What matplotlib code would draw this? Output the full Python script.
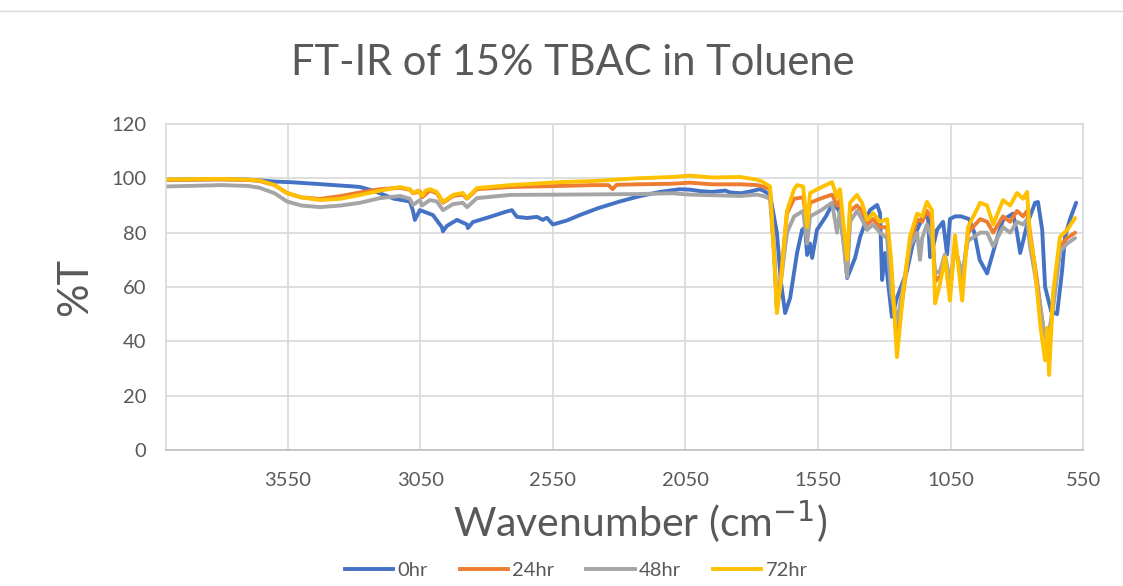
import numpy as np
import matplotlib
matplotlib.use("Agg")
import matplotlib.pyplot as plt
from matplotlib.lines import Line2D

plt.rcParams['font.family'] = ['Lato', 'DejaVu Sans']

title = "FT-IR of 15% TBAC in Toluene"
labels = ["0hr", "24hr", "48hr", "72hr"]
colors = ["#4472C4", "#ED7D31", "#A5A5A5", "#FFC000"]
x_ticks = [3550, 3050, 2550, 2050, 1550, 1050, 550]
y_ticks = [0, 20, 40, 60, 80, 100, 120]

# (wavenumber, %T)
spec_0hr = np.array([
    (4010, 99.5), (3900, 99.6), (3800, 99.7), (3700, 99.5), (3650, 99.2), (3600, 98.8),
    (3542, 98.6), (3450, 98.0), (3391, 97.6), (3300, 97.0), (3278, 96.8), (3230, 95.5),
    (3203, 94.5), (3150, 92.5), (3090, 91.5), (3078, 88.0), (3071, 84.7), (3052, 88.3),
    (3003, 86.5), (2969, 82.0), (2965, 80.5), (2950, 82.5), (2912, 84.7), (2874, 83.0),
    (2871, 81.7), (2852, 83.9), (2788, 85.8), (2731, 87.6), (2705, 88.3), (2686, 85.8),
    (2648, 85.4), (2610, 85.8), (2588, 84.7), (2573, 85.5), (2550, 83.0), (2497, 84.5),
    (2448, 86.5), (2380, 89.0), (2297, 91.5), (2220, 93.5), (2146, 95.0), (2071, 96.0),
    (2030, 95.8), (1995, 95.3), (1950, 95.0), (1900, 95.5), (1882, 94.8), (1840, 94.5),
    (1800, 95.3), (1770, 96.0), (1757, 95.5), (1731, 93.9), (1705, 80.0), (1690, 62.0),
    (1674, 50.4), (1655, 56.0), (1629, 72.5), (1610, 81.0), (1599, 82.0), (1591, 71.8),
    (1580, 76.0), (1572, 70.7), (1554, 81.0), (1520, 86.0), (1493, 91.0), (1470, 88.0),
    (1450, 75.0), (1440, 63.3), (1410, 70.7), (1391, 78.4), (1354, 88.3), (1327, 90.2),
    (1316, 87.2), (1308, 62.6), (1297, 72.5), (1286, 62.0), (1271, 49.0), (1252, 56.0),
    (1214, 66.0), (1195, 74.7), (1176, 81.0), (1154, 85.8), (1135, 85.8), (1127, 71.0),
    (1116, 74.7), (1101, 81.0), (1078, 84.0), (1063, 72.0), (1052, 85.0), (1033, 86.0),
    (1010, 86.0), (980, 85.0), (960, 80.0), (940, 70.0), (912, 65.0), (874, 78.0),
    (852, 84.7), (814, 87.0), (799, 80.0), (787, 72.5), (761, 83.0), (731, 91.0),
    (720, 91.3), (704, 81.0), (693, 60.0), (670, 51.0), (648, 50.0), (629, 66.0),
    (618, 78.4), (599, 85.0), (576, 91.0),
])

spec_24hr = np.array([
    (4010, 99.4), (3800, 99.6), (3700, 99.4), (3656, 99.0), (3600, 97.5), (3554, 94.6),
    (3500, 93.0), (3429, 92.4), (3350, 93.5), (3278, 94.8), (3203, 96.0), (3127, 96.5),
    (3090, 95.8), (3078, 94.5), (3052, 95.2), (3044, 93.0), (3014, 95.5), (2988, 94.5),
    (2965, 91.0), (2927, 93.5), (2890, 94.0), (2874, 92.5), (2837, 96.0), (2712, 96.8),
    (2523, 97.2), (2400, 97.5), (2340, 97.5), (2325, 96.0), (2310, 97.6), (2233, 97.8),
    (2100, 98.0), (2033, 98.4), (1950, 97.8), (1844, 97.8), (1780, 97.5), (1757, 97.0),
    (1731, 96.0), (1715, 72.0), (1705, 52.0), (1690, 64.0), (1667, 87.0), (1640, 92.5),
    (1606, 93.0), (1591, 83.0), (1580, 91.0), (1542, 92.5), (1497, 94.0), (1478, 90.0),
    (1467, 92.0), (1440, 66.0), (1429, 88.0), (1403, 90.0), (1384, 88.0), (1365, 83.0),
    (1342, 85.0), (1316, 82.0), (1289, 82.0), (1274, 66.0), (1252, 40.0), (1229, 57.0),
    (1203, 76.0), (1176, 85.0), (1157, 84.0), (1139, 88.0), (1120, 85.0), (1108, 62.0),
    (1089, 64.0), (1071, 70.0), (1052, 58.0), (1033, 76.0), (1006, 62.0), (984, 80.0),
    (938, 85.0), (912, 84.0), (889, 80.0), (852, 86.0), (825, 84.0), (799, 88.0),
    (776, 86.0), (761, 88.0), (750, 80.0), (723, 62.0), (700, 45.0), (678, 38.0),
    (663, 55.0), (637, 75.0), (610, 78.0), (580, 80.0),
])

spec_48hr = np.array([
    (4010, 97.0), (3800, 97.5), (3700, 97.2), (3656, 96.5), (3600, 94.5), (3554, 91.5),
    (3500, 90.0), (3429, 89.4), (3350, 90.0), (3278, 91.0), (3203, 92.7), (3127, 93.5),
    (3090, 92.5), (3078, 90.2), (3052, 92.0), (3044, 90.0), (3014, 92.0), (2988, 91.5),
    (2965, 88.3), (2927, 90.5), (2890, 91.0), (2874, 89.4), (2837, 92.7), (2712, 93.9),
    (2523, 94.0), (2233, 94.2), (2100, 94.5), (2033, 94.0), (1950, 93.8), (1844, 93.5),
    (1780, 94.0), (1757, 93.5), (1731, 92.5), (1715, 72.0), (1705, 52.0), (1690, 62.0),
    (1667, 80.0), (1640, 86.0), (1606, 88.0), (1591, 76.0), (1580, 86.0), (1542, 88.0),
    (1497, 91.0), (1478, 80.0), (1467, 88.0), (1440, 63.7), (1429, 84.0), (1403, 88.0),
    (1384, 85.0), (1365, 81.0), (1342, 83.0), (1316, 80.0), (1289, 78.0), (1274, 58.0),
    (1252, 47.0), (1229, 60.0), (1203, 75.0), (1176, 80.0), (1165, 70.0), (1157, 78.0),
    (1139, 83.0), (1120, 78.0), (1108, 65.0), (1089, 66.0), (1071, 72.0), (1052, 62.0),
    (1033, 74.0), (1006, 65.0), (984, 77.0), (938, 80.0), (912, 80.0), (889, 75.0),
    (852, 82.0), (825, 80.0), (799, 84.0), (776, 83.0), (761, 85.0), (750, 75.0),
    (723, 60.0), (700, 45.0), (685, 40.0), (663, 52.0), (637, 73.0), (610, 76.0),
    (580, 78.0),
])

spec_72hr = np.array([
    (4010, 99.6), (3800, 99.8), (3700, 99.5), (3656, 99.2), (3600, 97.5), (3554, 94.6),
    (3500, 93.0), (3429, 92.0), (3350, 92.5), (3278, 93.9), (3200, 95.5), (3127, 96.8),
    (3090, 96.0), (3078, 94.6), (3060, 95.5), (3044, 93.5), (3030, 95.5), (3014, 96.0),
    (2988, 95.0), (2965, 91.3), (2927, 93.9), (2890, 94.6), (2874, 92.7), (2837, 96.4),
    (2712, 97.5), (2523, 98.6), (2400, 99.0), (2233, 100.0), (2100, 100.5), (2033, 101.0),
    (1950, 100.3), (1844, 100.5), (1780, 99.5), (1757, 98.6), (1731, 97.0), (1715, 70.0),
    (1705, 50.4), (1690, 62.0), (1667, 88.0), (1640, 96.0), (1629, 97.5), (1606, 97.0),
    (1591, 82.0), (1580, 94.6), (1542, 96.5), (1497, 98.6), (1478, 93.0), (1467, 96.0),
    (1440, 70.0), (1429, 91.0), (1403, 93.9), (1384, 91.0), (1365, 84.7), (1342, 87.2),
    (1316, 84.0), (1289, 85.0), (1274, 70.0), (1252, 34.2), (1229, 57.8), (1203, 78.4),
    (1176, 87.0), (1157, 86.0), (1139, 91.3), (1120, 88.3), (1108, 54.0), (1089, 61.5),
    (1071, 71.0), (1052, 55.0), (1033, 79.0), (1006, 55.0), (984, 82.0), (938, 91.0),
    (912, 90.0), (889, 83.0), (852, 92.0), (825, 90.0), (799, 94.6), (776, 92.5),
    (761, 95.0), (750, 78.4), (735, 70.0), (710, 45.0), (693, 33.0), (685, 45.0),
    (678, 27.6), (663, 57.8), (637, 78.4), (610, 81.0), (580, 85.4),
])

series = [spec_0hr, spec_24hr, spec_48hr, spec_72hr]

fig = plt.figure(figsize=(11.23, 5.86), dpi=100)
ax = fig.add_axes([0.1478, 0.2321, 0.9644 - 0.1478, 0.7884 - 0.2321])

for spec, lab, col in zip(series, labels, colors):
    ax.plot(spec[:, 0], spec[:, 1], color=col, lw=2.8, label=lab,
            solid_joinstyle='round', solid_capstyle='round')

ax.set_xlim(4010, 550)
ax.set_ylim(0, 120)
ax.set_xticks(x_ticks)
ax.set_yticks(y_ticks)
ax.grid(True, color='#d9d9d9', lw=1.2)
ax.set_axisbelow(True)
ax.tick_params(length=0, labelsize=14.5, labelcolor='#595959')
ax.tick_params(axis='x', pad=16)
ax.tick_params(axis='y', pad=14)
for side in ['top', 'right', 'bottom', 'left']:
    ax.spines[side].set_color('#d9d9d9')
    ax.spines[side].set_linewidth(1.2)
ax.spines['bottom'].set_color('#bfbfbf')

# axis titles placed like the Excel chart
fig.text(0.067, 0.51, '%T', rotation=90, ha='center', va='center',
         fontsize=30, color='#595959')
fig.text(0.57, 0.109, 'Wavenumber (cm$^{-1}$)', ha='center', va='center',
         fontsize=29.5, color='#595959')
fig.text(0.51, 0.892, title, ha='center', va='center', fontsize=30, color='#595959')

handles = [Line2D([0], [0], color=c, lw=2.8) for c in colors]
fig.legend(handles, labels, loc='center', bbox_to_anchor=(0.513, 0.027), ncol=4,
           frameon=False, fontsize=14.5, labelcolor='#595959', handlelength=2.4,
           columnspacing=1.6, handletextpad=0.2)

# chart area border line at top
fig.add_artist(Line2D([0, 1], [0.981, 0.981], color='#d9d9d9', lw=1.0, transform=fig.transFigure))

fig.savefig('out.png', dpi=100)
